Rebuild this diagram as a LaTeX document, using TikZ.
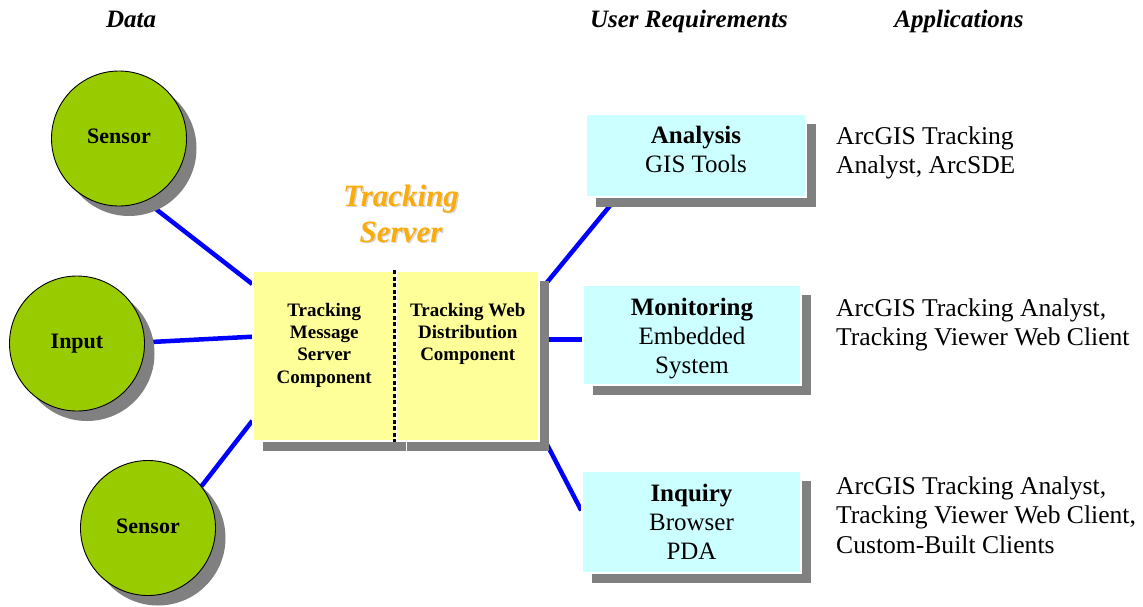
\documentclass[tikz,border=0pt]{standalone}
\usepackage{fontspec}
\setmainfont{Liberation Serif}
\usetikzlibrary{calc,shadows}
\definecolor{circgreen}{RGB}{153,204,0}
\definecolor{boxyellow}{RGB}{255,255,153}
\definecolor{boxcyan}{RGB}{204,255,255}
\definecolor{shadowgray}{RGB}{128,128,128}
\definecolor{linkblue}{RGB}{0,0,255}
\definecolor{titleorange}{RGB}{250,172,10}
\definecolor{titleshade}{RGB}{215,215,215}
\pgfdeclarelayer{bg}
\pgfsetlayers{bg,main}
\newcommand{\tbox}[4]{\begin{minipage}[c][#2][t]{#1}\centering\vspace*{#3}#4\end{minipage}}
\begin{document}
\begin{tikzpicture}[x=1pt,y=-1pt,
  shade/.style={drop shadow={shadow xshift=10pt,shadow yshift=-10pt,fill=shadowgray,opacity=1}},
  datanode/.style={circle,fill=circgreen,draw=black,line width=0.9pt,minimum size=135pt,inner sep=0pt,
    font=\fontsize{22}{26}\selectfont\bfseries,shade},
  reqbox/.style={rectangle,fill=boxcyan,draw=white,line width=1.5pt,inner sep=0pt,
    font=\fontsize{25}{29}\selectfont,shade},
  srvbox/.style={rectangle,fill=boxyellow,draw=white,line width=1.5pt,inner sep=0pt,
    font=\fontsize{19}{22.3}\selectfont\bfseries,shade},
  conn/.style={draw=linkblue,line width=4.5pt},
  header/.style={anchor=base,inner sep=0pt,font=\fontsize{25}{29}\selectfont\bfseries\itshape},
  apptext/.style={anchor=north west,align=left,inner sep=0pt,font=\fontsize{25.6}{29.5}\selectfont},
  titletext/.style={align=center,inner sep=0pt,font=\fontsize{31}{36}\selectfont\bfseries\itshape}
]
\useasboundingbox (0,0) rectangle (1143,606);

% headers
\node[header] (hdata) at (131,27) {Data};
\node[header] (hreq) at (689,27) {User Requirements};
\node[header] (happ) at (959,27) {Applications};

% data circles
\node[datanode] (s1) at (119,138.5) {\raisebox{5pt}{Sensor}};
\node[datanode] (in) at (77,343.5) {\raisebox{3pt}{Input}};
\node[datanode] (s2) at (148,528) {\raisebox{4pt}{Sensor}};

% title
\node[titletext,text=titleshade] (titlesh) at (402.5,215) {Tracking\\Server};
\node[titletext,text=titleorange] (title) at (401,213.4) {Tracking\\Server};

% server boxes
\node[srvbox,minimum width=142.5pt,minimum height=170pt] (srvL) at (324.25,356)
  {\tbox{142pt}{170pt}{32pt}{Tracking\\Message\\Server\\Component}};
\node[srvbox,minimum width=142.5pt,minimum height=170pt] (srvR) at (467.75,356)
  {\tbox{142pt}{170pt}{32pt}{Tracking Web\\Distribution\\Component}};
\draw[black,line width=3pt,dash pattern=on 4pt off 2.5pt]
  ([xshift=-1.5pt]srvL.north east) -- ([xshift=-1.5pt]srvL.south east);

% requirement boxes
\node[reqbox,minimum width=220pt,minimum height=83pt] (ana) at (696,155.5)
  {\tbox{220pt}{83pt}{12pt}{\textbf{Analysis}\\GIS Tools}};
\node[reqbox,minimum width=218pt,minimum height=100pt] (mon) at (692,335)
  {\tbox{218pt}{100pt}{13.5pt}{\textbf{Monitoring}\\Embedded\\System}};
\node[reqbox,minimum width=219pt,minimum height=102pt] (inq) at (691.5,522)
  {\tbox{219pt}{102pt}{13pt}{\textbf{Inquiry}\\Browser\\PDA}};

% applications
\node[apptext] (app1) at (836,126.3) {ArcGIS Tracking\\Analyst, ArcSDE};
\node[apptext] (app2) at (836,298.5) {ArcGIS Tracking Analyst,\\Tracking Viewer Web Client};
\node[apptext] (app3) at (836,476.3) {ArcGIS Tracking Analyst,\\Tracking Viewer Web Client,\\Custom-Built Clients};

% connectors
\begin{pgfonlayer}{bg}
\draw[conn] (s1.-67) -- (srvL.135);
\draw[conn] (in.1) -- (srvL.165);
\draw[conn] (s2.38) -- (srvL.222);
\draw[conn] (srvR.42) -- (ana.208);
\draw[conn] (srvR.13) -- (srvR.13 -| mon.west);
\draw[conn] (srvR.-46) -- (inq.174);
\end{pgfonlayer}
\end{tikzpicture}
\end{document}
